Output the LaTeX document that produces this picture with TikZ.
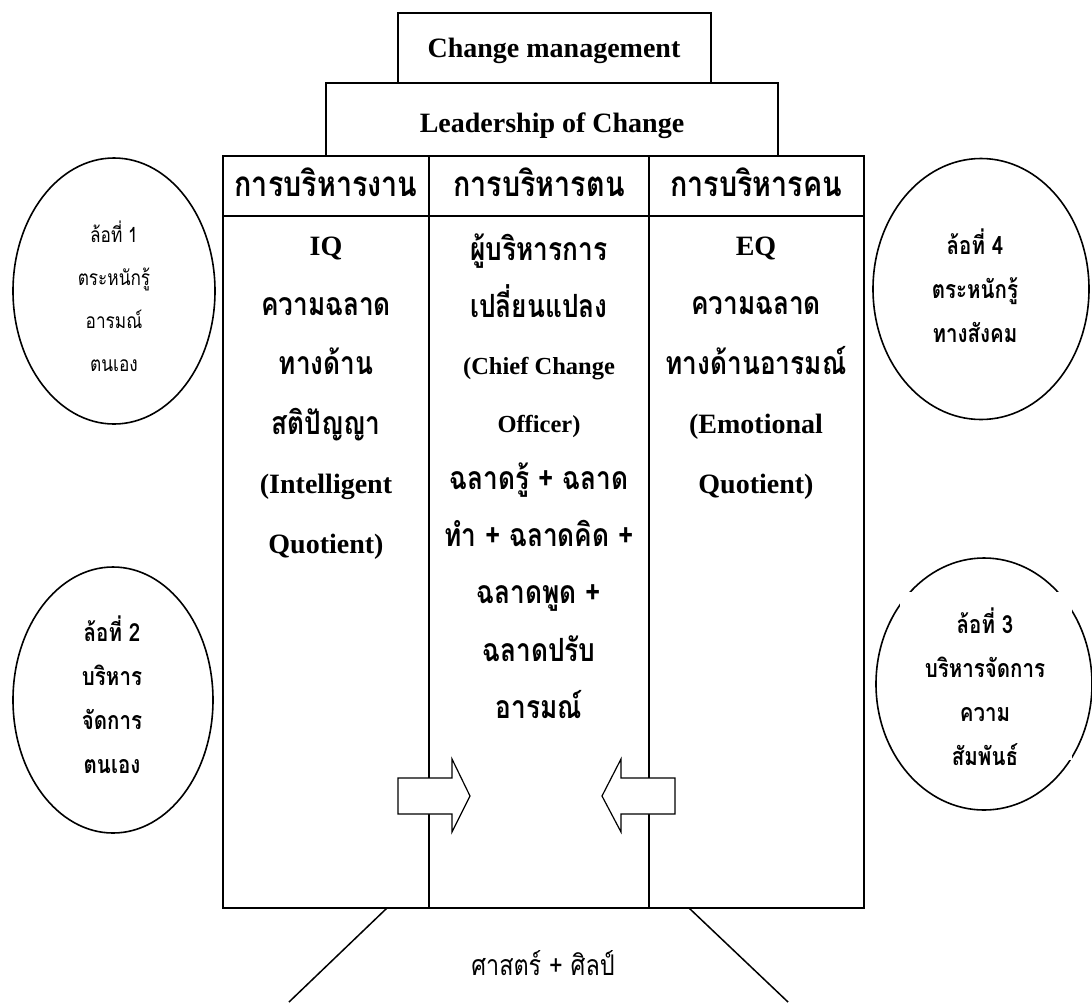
\documentclass[tikz,border=0pt]{standalone}
\usepackage{fontspec}
\setmainfont{Liberation Serif}
\newfontfamily\thaifont[Script=Thai,FakeStretch=0.82]{Loma}
\usetikzlibrary{shapes.geometric}
\tikzstyle{frame}=[draw=black,line width=1.6pt]
\tikzstyle{wheel}=[ellipse,draw=black,line width=1.6pt,inner sep=0pt]
\tikzstyle{title}=[inner sep=0pt,anchor=mid,font=\fontsize{28}{34}\selectfont\bfseries]
\tikzstyle{head}=[inner sep=0pt,anchor=mid,font=\fontsize{35}{40}\selectfont\thaifont\bfseries]
\tikzstyle{coltext}=[align=center,inner sep=0pt,font=\fontsize{28}{59.5}\selectfont\bfseries]
\tikzstyle{wheeltext}=[align=center,inner sep=0pt,font=\fontsize{25}{44}\selectfont\thaifont\bfseries]
\tikzstyle{blockarrow}=[draw=black,fill=white,line width=1.2pt,line join=miter]
\newcommand{\thword}[1]{{\fontsize{32}{40}\selectfont\thaifont #1}}

\begin{document}
\begin{tikzpicture}[x=1pt,y=-1pt]
  \useasboundingbox (0,0) rectangle (1092,1002);
  \draw[frame] (398,13) rectangle (711,83);
  \draw[frame] (326,83) rectangle (778,156);
  \node (chg) at (554,55) [title]{Change management};
  \node (lead) at (552,130) [title]{Leadership of Change};
  \draw[frame] (223,156) rectangle (864,908);
  \draw[frame] (223,216) -- (864,216);
  \draw[frame] (429,156) -- (429,908) (649,156) -- (649,908);
  \node (h1) at (326,194) [head]{การบริหารงาน};
  \node (h2) at (539,194) [head]{การบริหารตน};
  \node (h3) at (756,194) [head]{การบริหารคน};
  \node (c1) at (326,398) [coltext]{IQ\\ \thword{ความฉลาด}\\
    \thword{ทางด้าน}\\ \thword{สติปัญญา}\\ (Intelligent\\ Quotient)};
  \node (c2) at (539,476) [coltext,font=\fontsize{28}{57.3}\selectfont\bfseries]{%
    \thword{ผู้บริหารการ}\\ \thword{เปลี่ยนแปลง}\\
    {\fontsize{24.5}{57.3}\selectfont (Chief Change}\\
    {\fontsize{24.5}{57.3}\selectfont Officer)}\\
    \thword{ฉลาดรู้ + ฉลาด}\\ \thword{ทำ + ฉลาดคิด +}\\
    \thword{ฉลาดพูด +}\\ \thword{ฉลาดปรับ}\\ \thword{อารมณ์}};
  \node (c3) at (756,368) [coltext]{EQ\\ \thword{ความฉลาด}\\
    \thword{ทางด้านอารมณ์}\\ (Emotional\\ Quotient)};
  \node (w1) at (114,291) [wheel,minimum width=202pt,minimum height=266pt]{};
  \node (w2) at (113,700) [wheel,minimum width=200pt,minimum height=266pt]{};
  \node (w3) at (984,684) [wheel,minimum width=216pt,minimum height=252pt]{};
  \node (w4) at (981,289) [wheel,minimum width=216pt,minimum height=261pt]{};
  \node (t1) at (114,296) [wheeltext,font=\fontsize{21}{43}\selectfont\thaifont]{ล้อที่ 1\\ ตระหนักรู้\\ อารมณ์\\ ตนเอง};
  \node (t2) at (112,695) [wheeltext]{ล้อที่ 2\\ บริหาร\\ จัดการ\\ ตนเอง};
  \node (pad) at (986,676) [fill=white,minimum width=172pt,minimum height=168pt]{};
  \node (t3) at (985,687) [wheeltext]{ล้อที่ 3\\ บริหารจัดการ\\ ความ\\ สัมพันธ์};
  \node (t4) at (975,286) [wheeltext]{ล้อที่ 4\\ ตระหนักรู้\\ ทางสังคม};
  \draw[blockarrow] (398,778) -- (452,778) -- (452,759) -- (470,796)
    -- (452,832) -- (452,814) -- (398,814) -- cycle;
  \draw[blockarrow] (675,778) -- (621,778) -- (621,759) -- (602,796)
    -- (621,832) -- (621,814) -- (675,814) -- cycle;
  \coordinate (b1) at (387,908);
  \coordinate (b2) at (689,908);
  \draw[line width=1.5pt] (b1) -- (289,1002) (b2) -- (788,1002);
  \node (art) at (543,963) [inner sep=0pt,font=\fontsize{28.5}{34}\selectfont\thaifont]{ศาสตร์ + ศิลป์};
\end{tikzpicture}
\end{document}
